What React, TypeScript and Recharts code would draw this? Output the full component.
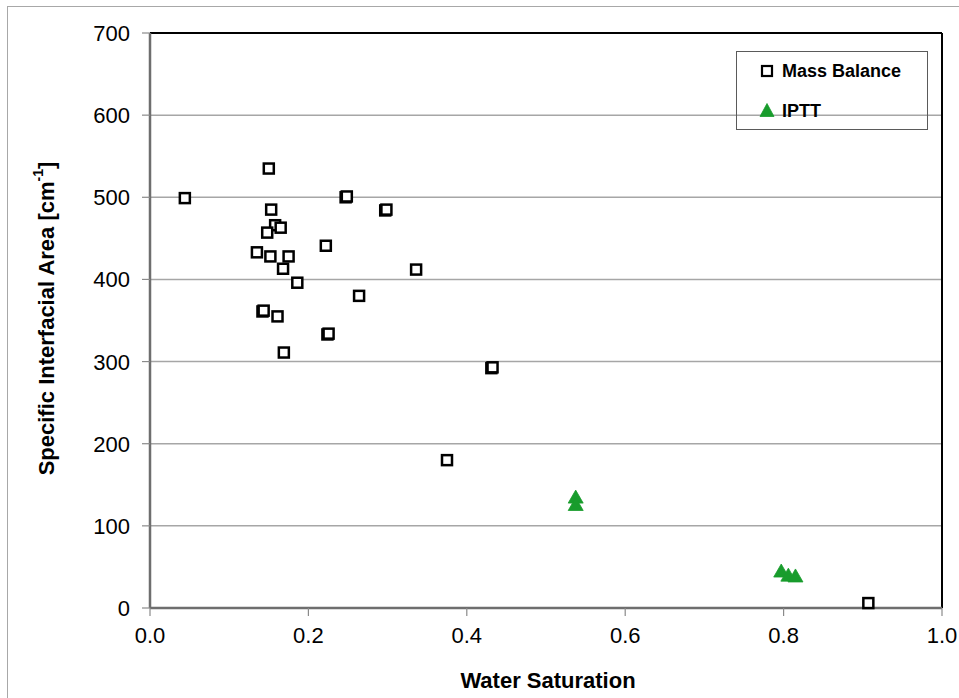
import React from 'react';
import { ScatterChart, Scatter, XAxis, YAxis, CartesianGrid, Legend, ReferenceLine } from 'recharts';

const FONT = '"Liberation Sans", Arial, Helvetica, sans-serif';

// Mass Balance series (water saturation, specific interfacial area)
const massBalanceX = [
  0.044, 0.150, 0.153, 0.158, 0.165, 0.148, 0.135, 0.152, 0.175, 0.168, 0.186,
  0.142, 0.1435, 0.161, 0.169, 0.222, 0.224, 0.2255, 0.247, 0.2485, 0.297, 0.2985,
  0.264, 0.336, 0.431, 0.4325, 0.375, 0.907,
];
const massBalanceY = [
  499, 535, 485, 466, 463, 457, 433, 428, 428, 413, 396,
  361, 362, 355, 311, 441, 333, 334, 500, 501, 484, 485,
  380, 412, 292, 293, 180, 6,
];

// IPTT series
const ipttX = [0.5375, 0.5375, 0.797, 0.806, 0.815];
const ipttY = [135, 126, 45, 40, 39];

const xTicks = [0, 0.2, 0.4, 0.6, 0.8, 1.0];
const yTicks = [0, 100, 200, 300, 400, 500, 600, 700];

const seriesNames = ['Mass Balance', 'IPTT'];
const xTitle = 'Water Saturation';
const yTitle = 'Specific Interfacial Area [cm';

const massBalance = massBalanceX.map((x, i) => ({ x, y: massBalanceY[i] }));
const iptt = ipttX.map((x, i) => ({ x, y: ipttY[i] }));

const GREEN = '#189c2c';

const SquareShape = (props: any) => {
  const { cx, cy } = props;
  if (cx == null || cy == null) return null;
  return <rect x={cx - 5} y={cy - 5} width={10} height={10} fill="#fff" stroke="#000" strokeWidth={2.5} />;
};

const TriangleShape = (props: any) => {
  const { cx, cy } = props;
  if (cx == null || cy == null) return null;
  return (
    <polygon
      points={`${cx},${cy - 7} ${cx - 7.5},${cy + 6} ${cx + 7.5},${cy + 6}`}
      fill={GREEN}
      stroke={GREEN}
      strokeWidth={0.8}
      strokeLinejoin="round"
    />
  );
};

const YTick = (props: any) => {
  const { x, y, payload } = props;
  return (
    <text x={x} y={y} dy={8} textAnchor="end" fontFamily={FONT} fontSize={22} fill="#000">
      {payload.value}
    </text>
  );
};

const XTick = (props: any) => {
  const { x, y, payload } = props;
  return (
    <text x={x} y={y} dy={15} textAnchor="middle" fontFamily={FONT} fontSize={22} fill="#000">
      {Number(payload.value).toFixed(1)}
    </text>
  );
};

const YTitle = (props: any) => {
  const vb = props.viewBox || { x: 0, y: 33, width: 150, height: 575 };
  const cx = 46;
  const cy = vb.y + vb.height / 2 - 2;
  return (
    <text
      x={cx}
      y={cy}
      transform={`rotate(-90, ${cx}, ${cy})`}
      textAnchor="middle"
      dominantBaseline="central"
      fontFamily={FONT}
      fontSize={22}
      fontWeight="bold"
      fill="#000"
    >
      {yTitle}
      <tspan fontSize={14} dy={-8}>-1</tspan>
      <tspan dy={8}>]</tspan>
    </text>
  );
};

const XTitle = (props: any) => {
  const vb = props.viewBox || { x: 150, y: 608, width: 792, height: 90 };
  return (
    <text
      x={vb.x + vb.width / 2 + 2}
      y={688}
      textAnchor="middle"
      fontFamily={FONT}
      fontSize={22}
      fontWeight="bold"
      fill="#000"
    >
      {xTitle}
    </text>
  );
};

const LegendBox = () => (
  <svg width={192} height={80} style={{ display: 'block', overflow: 'visible' }}>
    <rect x={0.5} y={0.5} width={191} height={78} fill="none" stroke="#5a5a5a" strokeWidth={1} />
    <rect x={26} y={15} width={10} height={10} fill="#fff" stroke="#000" strokeWidth={2.2} />
    <text x={46} y={26} fontFamily={FONT} fontSize={18} fontWeight="bold" fill="#000">
      {seriesNames[0]}
    </text>
    <polygon points="31,52.5 24,65.5 38,65.5" fill={GREEN} stroke={GREEN} strokeWidth={0.8} />
    <text x={46} y={66} fontFamily={FONT} fontSize={18} fontWeight="bold" fill="#000">
      {seriesNames[1]}
    </text>
  </svg>
);

export default function App() {
  return (
    <div style={{ position: 'absolute', left: 0, top: 0, width: 959, height: 698, overflow: 'hidden', background: '#fff' }}>
      <div
        style={{
          position: 'absolute',
          left: 7,
          top: 6,
          width: 1200,
          height: 1200,
          borderLeft: '1.5px solid #a8a8a8',
          borderTop: '1.5px solid #a8a8a8',
        }}
      />
      <div style={{ position: 'absolute', left: 0, top: 0 }}>
        <ScatterChart width={959} height={698} margin={{ top: 33, right: 17, bottom: 0, left: 0 }}>
          <CartesianGrid horizontal vertical={false} stroke="#a6a6a6" strokeWidth={1.5} />
          <XAxis
            type="number"
            dataKey="x"
            domain={[0, 1]}
            ticks={xTicks}
            interval={0}
            height={90}
            tickSize={8}
            tickMargin={12}
            tick={<XTick />}
            axisLine={{ stroke: '#6e6e6e', strokeWidth: 2.5 }}
            tickLine={{ stroke: '#8a8a8a', strokeWidth: 1.2 }}
            label={<XTitle />}
          />
          <YAxis
            type="number"
            dataKey="y"
            domain={[0, 700]}
            ticks={yTicks}
            interval={0}
            width={150}
            tickSize={8}
            tickMargin={12}
            tick={<YTick />}
            axisLine={{ stroke: '#6e6e6e', strokeWidth: 2.5 }}
            tickLine={{ stroke: '#8a8a8a', strokeWidth: 1.2 }}
            label={<YTitle />}
          />
          <ReferenceLine y={700} stroke="#000" strokeWidth={2} />
          <ReferenceLine x={1} stroke="#000" strokeWidth={2} />
          <Legend
            layout="horizontal"
            verticalAlign="middle"
            align="center"
            content={<LegendBox />}
            wrapperStyle={{ position: 'absolute', left: 736, top: 51, width: 192, height: 80 }}
          />
          <Scatter name={seriesNames[0]} data={massBalance} shape={<SquareShape />} isAnimationActive={false} />
          <Scatter name={seriesNames[1]} data={iptt} shape={<TriangleShape />} isAnimationActive={false} />
        </ScatterChart>
      </div>
    </div>
  );
}
